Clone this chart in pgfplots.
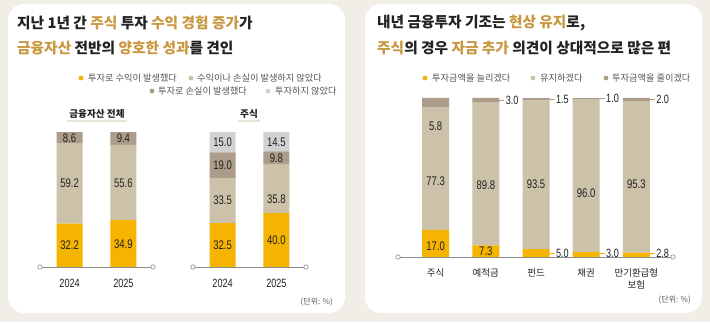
\documentclass[border=0pt]{standalone}
\usepackage{fontspec}
\setmainfont{Noto Sans CJK KR}
\newfontfamily\numf{Liberation Sans}[FakeStretch=0.76]
\usepackage{pgfplots}
\pgfplotsset{compat=1.18}
\definecolor{bg}{HTML}{F1EDE7}
\definecolor{hl}{HTML}{C8973F}
\definecolor{cY}{HTML}{F5B400}
\definecolor{cT}{HTML}{CCC1A9}
\definecolor{cD}{HTML}{AB9D89}
\definecolor{cG}{HTML}{D1D1D3}
\definecolor{txt}{HTML}{222222}
\definecolor{lg}{HTML}{555555}
\definecolor{axl}{HTML}{8C8C8C}
\definecolor{ul}{HTML}{E8E2D8}
\pgfplotsset{
  ov/.style={scale only axis, ymin=0, ymax=100, axis lines=none,
    clip=false, xtick=\empty, ytick=\empty, anchor=south west},
  bars/.style={ov, ybar stacked},
  g1/.style={at={(40pt,55pt)}, width=113pt, height=135pt, xmin=-0.55, xmax=1.55, bar width=26pt},
  g2/.style={at={(193pt,55pt)}, width=113pt, height=135pt, xmin=-0.55, xmax=1.55, bar width=26pt},
  g3/.style={at={(398pt,65pt)}, width=275pt, height=159pt, xmin=-0.75, xmax=4.73, bar width=27pt},
}
\newcommand{\vl}[3]{\node[font=\numf\fontsize{12.5}{14}\selectfont, text=txt, inner sep=0pt] at (axis cs:#1,#2) {#3};}
\newcommand{\sml}[4]{\draw[#4, line width=0.9pt] (axis cs:#1,#2) -- ++(5pt,0pt) node[right, inner sep=1pt, font=\numf\fontsize{12}{14}\selectfont, text=txt] {#3};}
\newcommand{\baseln}[2]{\draw[axl, line width=0.8pt] (axis cs:#1,0) -- (axis cs:#2,0);
  \draw[axl, fill=white, line width=0.6pt] (axis cs:#1,0) circle[radius=2.2pt];
  \draw[axl, fill=white, line width=0.6pt] (axis cs:#2,0) circle[radius=2.2pt];}
\newcommand{\xl}[3]{\node[font=#3, text=txt, inner sep=0pt] at ([yshift=-16pt]axis cs:#1,0) {#2};}
\begin{document}
\begin{tikzpicture}[x=1pt,y=1pt]
\fill[bg] (0,0) rectangle (710,322);
\fill[white, rounded corners=16pt] (8,9) rectangle (345,318);
\fill[white, rounded corners=16pt] (365,9) rectangle (702,318);
% titles
\begin{scope}[every node/.style={anchor=west, inner sep=0pt, font=\fontsize{14.7}{16}\selectfont\bfseries, text=txt}]
\node at (17,299) {지난 1년 간 {\color{hl}주식} 투자 {\color{hl}수익 경험 증가}가};
\node at (17,274) {{\color{hl}금융자산} 전반의 {\color{hl}양호한 성과}를 견인};
\node at (377,299) {내년 금융투자 기조는 {\color{hl}현상 유지}로,};
\node at (377,274) {{\color{hl}주식}의 경우 {\color{hl}자금 추가} 의견이 상대적으로 많은 편};
\end{scope}
% legends
\begin{scope}[every node/.style={anchor=west, inner sep=0pt, font=\fontsize{9.2}{10}\selectfont, text=lg}]
\fill[cY] (81,244) circle (2.4); \node at (88,244) {투자로 수익이 발생했다};
\fill[cT] (191,244) circle (2.4); \node at (197,244) {수익이나 손실이 발생하지 않았다};
\fill[cD] (152,231) circle (2.4); \node at (158,231) {투자로 손실이 발생했다};
\fill[cG] (268,231) circle (2.4); \node at (275,231) {투자하지 않았다};
\fill[cY] (425,244) circle (2.4); \node at (432,244) {투자금액을 늘리겠다};
\fill[cT] (533,244) circle (2.4); \node at (540,244) {유지하겠다};
\fill[cD] (606,244) circle (2.4); \node at (612,244) {투자금액을 줄이겠다};
\end{scope}
% subtitles
\draw[ul, line width=2pt] (67,201) -- (127,201);
\node[inner sep=0pt, font=\fontsize{9.6}{10}\selectfont\bfseries, text=txt] at (97,208) {금융자산 전체};
\draw[ul, line width=2pt] (238,201) -- (260,201);
\node[inner sep=0pt, font=\fontsize{9.6}{10}\selectfont\bfseries, text=txt] at (249,208) {주식};
% units
\node[anchor=east, inner sep=0pt, font=\fontsize{8}{9}\selectfont, text=lg] at (333,20) {(단위: \%)};
\node[anchor=east, inner sep=0pt, font=\fontsize{8}{9}\selectfont, text=lg] at (691,22) {(단위: \%)};

% chart 1: 금융자산 전체
\begin{axis}[bars, g1]
\addplot[fill=cY, draw=none] coordinates {(0,32.2) (1,34.9)};
\addplot[fill=cT, draw=none] coordinates {(0,59.2) (1,55.6)};
\addplot[fill=cD, draw=none] coordinates {(0,8.6) (1,9.4)};
\end{axis}
\begin{axis}[ov, g1]
\baseln{-0.55}{1.55}
\vl{0}{16.1}{32.2} \vl{0}{61.8}{59.2} \vl{0}{95.7}{8.6}
\vl{1}{17.2}{34.9} \vl{1}{62.3}{55.6} \vl{1}{95.3}{9.4}
\xl{0}{2024}{\numf\fontsize{12}{14}\selectfont}
\xl{1}{2025}{\numf\fontsize{12}{14}\selectfont}
\end{axis}

% chart 2: 주식
\begin{axis}[bars, g2]
\addplot[fill=cY, draw=none] coordinates {(0,32.5) (1,40.0)};
\addplot[fill=cT, draw=none] coordinates {(0,33.5) (1,35.8)};
\addplot[fill=cD, draw=none] coordinates {(0,19.0) (1,9.8)};
\addplot[fill=cG, draw=none] coordinates {(0,15.0) (1,14.5)};
\end{axis}
\begin{axis}[ov, g2]
\baseln{-0.55}{1.55}
\vl{0}{16.25}{32.5} \vl{0}{49.5}{33.5} \vl{0}{75.5}{19.0} \vl{0}{92.5}{15.0}
\vl{1}{20}{40.0} \vl{1}{50.5}{35.8} \vl{1}{80.5}{9.8} \vl{1}{92.5}{14.5}
\xl{0}{2024}{\numf\fontsize{12}{14}\selectfont}
\xl{1}{2025}{\numf\fontsize{12}{14}\selectfont}
\end{axis}

% chart 3: 내년 투자 계획
\begin{axis}[bars, g3]
\addplot[fill=cY, draw=none] coordinates {(0,17.0) (1,7.3) (2,5.0) (3,3.0) (4,2.8)};
\addplot[fill=cT, draw=none] coordinates {(0,77.3) (1,89.8) (2,93.5) (3,96.0) (4,95.3)};
\addplot[fill=cD, draw=none] coordinates {(0,5.8) (1,3.0) (2,1.5) (3,1.0) (4,2.0)};
\end{axis}
\begin{axis}[ov, g3]
\baseln{-0.75}{4.73}
\vl{0}{7}{17.0} \vl{0}{47.8}{77.3} \vl{0}{82.4}{5.8}
\vl{1}{3.5}{7.3} \vl{1}{45.3}{89.8}
\vl{2}{46}{93.5} \vl{3}{40.3}{96.0} \vl{4}{46}{95.3}
\sml{1.27}{98.5}{3.0}{cD} \sml{2.27}{99.25}{1.5}{cD} \sml{3.27}{99.5}{1.0}{cD} \sml{4.27}{99}{2.0}{cD}
\sml{2.27}{2.5}{5.0}{cY} \sml{3.27}{2}{3.0}{cY} \sml{4.27}{2.5}{2.8}{cY}
\xl{0}{주식}{\fontsize{9.5}{10}\selectfont}
\xl{1}{예적금}{\fontsize{9.5}{10}\selectfont}
\xl{2}{펀드}{\fontsize{9.5}{10}\selectfont}
\xl{3}{채권}{\fontsize{9.5}{10}\selectfont}
\node[font=\fontsize{9.5}{10}\selectfont, text=txt, inner sep=0pt] at ([yshift=-28pt]axis cs:4,0) {보험};
\xl{4}{만기환급형}{\fontsize{9.5}{10}\selectfont}
\end{axis}
\pgfresetboundingbox
\path (0,0) rectangle (710,322);
\end{tikzpicture}
\end{document}
